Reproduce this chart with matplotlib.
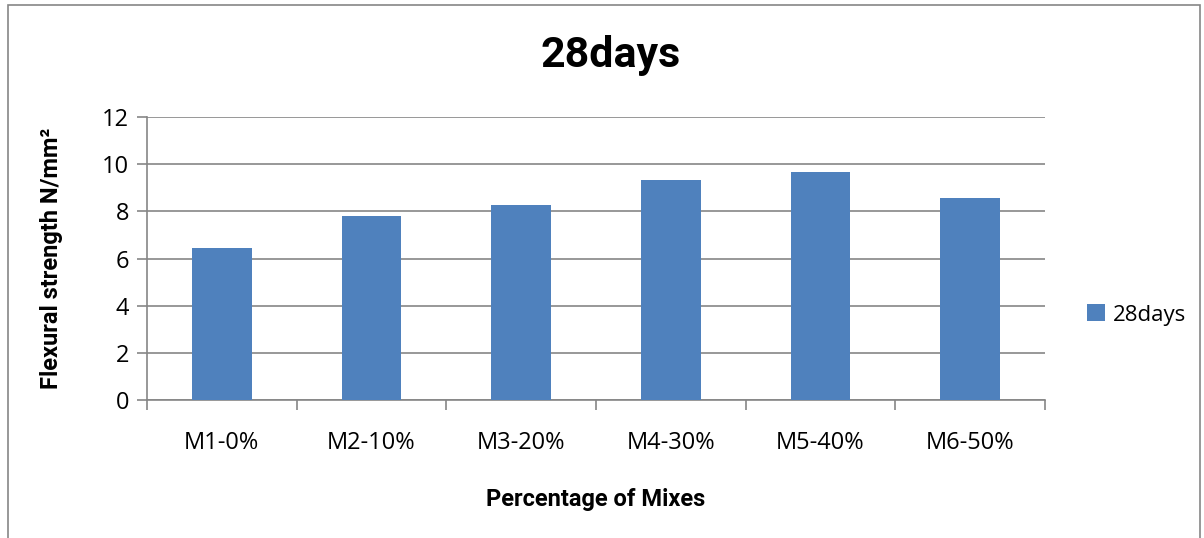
import matplotlib.pyplot as plt
from matplotlib.patches import Rectangle

# Data
mixes = ['M1-0%', 'M2-10%', 'M3-20%', 'M4-30%', 'M5-40%', 'M6-50%']
strength_28d = [6.45, 7.79, 8.26, 9.33, 9.65, 8.58]
y_ticks = [0, 2, 4, 6, 8, 10, 12]

bar_color = '#4f81bd'
grid_color = '#868686'

plt.rcParams['font.family'] = ['Open Sans', 'DejaVu Sans']

fig = plt.figure(figsize=(12.04, 5.38), dpi=100)
ax = fig.add_axes([147 / 1204, 1 - 400 / 538, (1045 - 147) / 1204, (400 - 117) / 538])

x = range(len(mixes))
ax.bar(x, strength_28d, width=0.4, color=bar_color, zorder=3, label='28days')

ax.set_xlim(-0.5, len(mixes) - 0.5)
ax.set_ylim(0, 12)
ax.set_yticks(y_ticks)
ax.set_xticks(list(x))
ax.set_xticklabels(mixes)
ax.set_xticks([i - 0.5 for i in range(len(mixes) + 1)], minor=True)

ax.grid(axis='y', color=grid_color, linewidth=1.2, zorder=0)
for side in ['top', 'right']:
    ax.spines[side].set_visible(False)
for side in ['left', 'bottom']:
    ax.spines[side].set_color(grid_color)
    ax.spines[side].set_linewidth(1.2)

ax.tick_params(axis='y', length=7, color=grid_color, width=1.2, labelsize=17, pad=6)
ax.tick_params(axis='x', which='major', length=0, labelsize=17, pad=22)
ax.tick_params(axis='x', which='minor', length=7, color=grid_color, width=1.2)

ax.set_xlabel('Percentage of Mixes', fontsize=17, fontweight='bold',
              family=['Roboto', 'DejaVu Sans'], labelpad=24)
ax.set_ylabel('Flexural strength N/mm²', fontsize=17, fontweight='bold',
              family=['Roboto', 'DejaVu Sans'], labelpad=28)

fig.text(611 / 1204, 1 - 56 / 538, '28days', fontsize=31, fontweight='bold',
         family=['Roboto', 'DejaVu Sans'], ha='center', va='center')

leg = ax.legend(loc='center left', bbox_to_anchor=(1.025, 0.3), frameon=False,
                fontsize=16, handlelength=0.8, handleheight=0.8, handletextpad=0.35)

# Outer chart border
fig.patches.append(Rectangle((8 / 1204, -0.01), 1192 / 1204, 1 - 5 / 538 + 0.01,
                             transform=fig.transFigure, fill=False,
                             edgecolor='#868686', linewidth=1.2))

fig.savefig('out.png', dpi=100)
